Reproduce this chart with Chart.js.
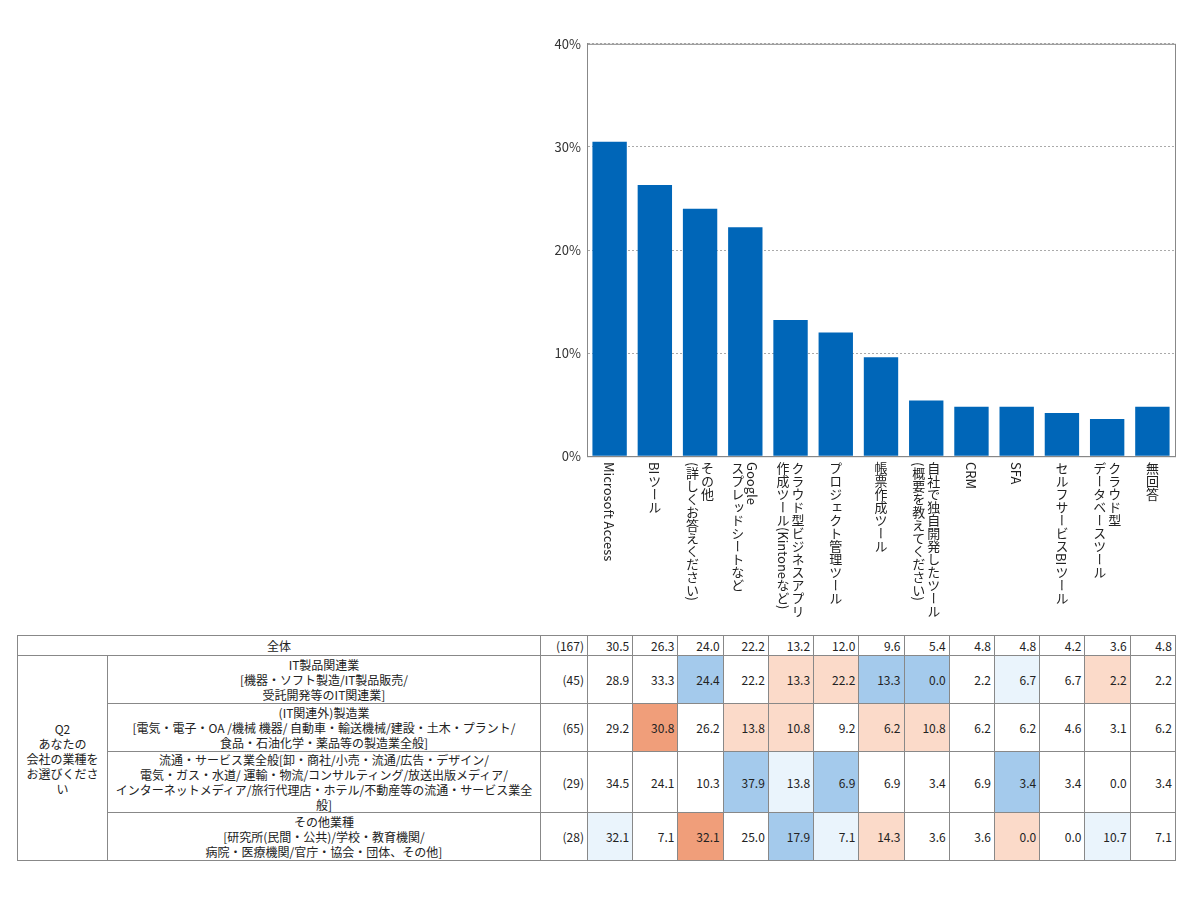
<!DOCTYPE html>
<html><head><meta charset="utf-8">
<script src="https://cdn.jsdelivr.net/npm/chart.js@4/dist/chart.umd.min.js"></script>
<style>
body{margin:0;background:#fff;font-family:"Noto Sans CJK JP","Noto Sans",sans-serif;color:#222}
#wrap{position:absolute;left:540px;top:30px;width:650px;height:440px}
.xl{position:absolute;writing-mode:vertical-rl;font-size:13px;line-height:15px;white-space:pre;color:#222}
table{position:absolute;left:17px;top:635px;border-collapse:collapse;font-size:12px;table-layout:fixed}
td{border:1px solid #888;padding:0 3px;text-align:right;line-height:15px}
td.c{text-align:center}
</style></head><body>
<div id="wrap"><canvas id="c"></canvas></div>
<div id="labels"></div>
<table id="t"></table>
<script>
// 選択肢
const categories = [
  'Microsoft Access', 'BIツール', 'その他\n(詳しくお答えください)', 'Google\nスプレッドシートなど',
  'クラウド型ビジネスアプリ\n作成ツール(Kintoneなど)', 'プロジェクト管理ツール', '帳票作成ツール',
  '自社で独自開発したツール\n(概要を教えてください)', 'CRM', 'SFA', 'セルフサービスBIツール',
  'クラウド型\nデータベースツール', '無回答'
];
const totalValues = [30.5, 26.3, 24.0, 22.2, 13.2, 12.0, 9.6, 5.4, 4.8, 4.8, 4.2, 3.6, 4.8];
const yTicks = [0, 10, 20, 30, 40];

// 業種別クロス集計
const groupTitle = 'Q2\nあなたの\n会社の業種を\nお選びください';
const rowLabels = [
  'IT製品関連業\n[機器・ソフト製造/IT製品販売/\n受託開発等のIT関連業]',
  '(IT関連外)製造業\n[電気・電子・OA /機械 機器/ 自動車・輸送機械/建設・土木・プラント/\n食品・石油化学・薬品等の製造業全般]',
  '流通・サービス業全般[卸・商社/小売・流通/広告・デザイン/\n電気・ガス・水道/ 運輸・物流/コンサルティング/放送出版メディア/\nインターネットメディア/旅行代理店・ホテル/不動産等の流通・サービス業全般]',
  'その他業種\n[研究所(民間・公共)/学校・教育機関/\n病院・医療機関/官庁・協会・団体、その他]'
];
const rowN = [45, 65, 29, 28];
const totalN = 167;
const rowValues = [
  [28.9, 33.3, 24.4, 22.2, 13.3, 22.2, 13.3, 0.0, 2.2, 6.7, 6.7, 2.2, 2.2],
  [29.2, 30.8, 26.2, 13.8, 10.8, 9.2, 6.2, 10.8, 6.2, 6.2, 4.6, 3.1, 6.2],
  [34.5, 24.1, 10.3, 37.9, 13.8, 6.9, 6.9, 3.4, 6.9, 3.4, 3.4, 0.0, 3.4],
  [32.1, 7.1, 32.1, 25.0, 17.9, 7.1, 14.3, 3.6, 3.6, 0.0, 0.0, 10.7, 7.1]
];
// 有意差マーク: 2=強く高い, 1=高い, -1=低い, -2=強く低い
const rowSignif = [
  [0, 0, -2, 0, 1, 1, -2, -2, 0, -1, 0, 1, 0],
  [0, 2, 0, 1, 1, 0, 1, 1, 0, 0, 0, 0, 0],
  [0, 0, 0, -2, -1, -2, 0, 0, 0, -2, 0, 0, 0],
  [-1, 0, 2, 0, -2, -1, 1, 0, 0, 1, 0, -1, 0]
];
const signifColors = {'2': '#f09e7a', '1': '#fbdac9', '-1': '#eaf4fc', '-2': '#a4caec', '0': '#fff'};

const frame = {
  id: 'frame',
  afterDraw(chart) {
    const {ctx, chartArea: a} = chart;
    ctx.save();
    ctx.strokeStyle = '#888';
    ctx.lineWidth = 1;
    ctx.strokeRect(a.left + 0.5, a.top + 0.5, a.right - a.left, a.bottom - a.top);
    ctx.restore();
    // 縦書きラベル
    const box = document.getElementById('labels');
    if (box.childElementCount) return;
    const x = chart.scales.x;
    categories.forEach((c, i) => {
      const d = document.createElement('div');
      d.className = 'xl';
      d.textContent = c;
      box.appendChild(d);
      const px = 540 + x.getPixelForValue(i);
      d.style.left = (px - d.offsetWidth / 2) + 'px';
      d.style.top = (30 + a.bottom + 6) + 'px';
    });
  }
};

new Chart(document.getElementById('c'), {
  type: 'bar',
  data: {
    labels: categories,
    datasets: [{data: totalValues, backgroundColor: '#0066b8', barPercentage: 0.76, categoryPercentage: 1}]
  },
  options: {
    responsive: true, maintainAspectRatio: false, animation: false,
    layout: {padding: {top: 5, right: 15}},
    plugins: {legend: {display: false}, tooltip: {enabled: false}},
    scales: {
      x: {
        ticks: {display: false}, grid: {display: false}, border: {color: '#888'},
        afterFit(s) { s.height = 6; }
      },
      y: {
        min: 0, max: 40,
        afterBuildTicks(s) { s.ticks = yTicks.map(v => ({value: v})); },
        afterFit(s) { s.width = 47; },
        ticks: {callback: v => v + '%', color: '#333', font: {size: 13, family: '"Noto Sans CJK JP"'}, padding: 6},
        grid: {color: '#aaa', drawTicks: false, lineWidth: 1},
        border: {color: '#888', dash: [2, 2]}
      }
    }
  },
  plugins: [frame]
});

// 表
const t = document.getElementById('t');
const colW = [90, 433, 47].concat(categories.map(() => 45.23));
const cg = document.createElement('colgroup');
colW.forEach(w => { const c = document.createElement('col'); c.style.width = w + 'px'; cg.appendChild(c); });
t.appendChild(cg);
const br = s => s.replace(/\n/g, '<br>');
let html = '<tr style="height:20px"><td colspan="2" class="c">全体</td><td>(' + totalN + ')</td>' +
  totalValues.map(v => '<td>' + v.toFixed(1) + '</td>').join('') + '</tr>';
rowLabels.forEach((lab, r) => {
  html += '<tr style="height:48px">';
  if (r === 0) html += '<td rowspan="4" class="c">' + br(groupTitle) + '</td>';
  html += '<td class="c">' + br(lab) + '</td><td>(' + rowN[r] + ')</td>';
  html += rowValues[r].map((v, i) => '<td style="background:' + signifColors[rowSignif[r][i]] + '">' + v.toFixed(1) + '</td>').join('');
  html += '</tr>';
});
t.innerHTML += html;
</script>
</body></html>
